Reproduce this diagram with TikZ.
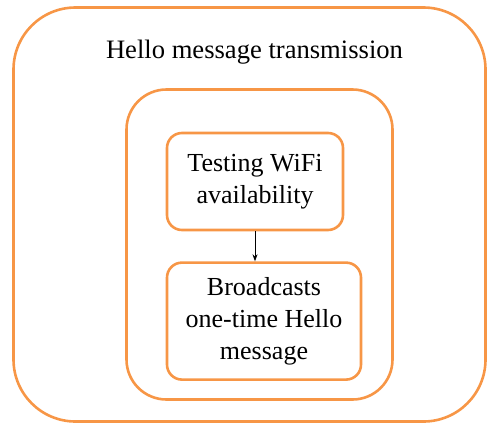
\documentclass[tikz,border=0pt]{standalone}
\usepackage{fontspec}
\setmainfont{Liberation Serif}
\usepackage{xcolor}
\usepackage{tikz}
\usetikzlibrary{arrows.meta,positioning}

\definecolor{frameorange}{RGB}{247,150,70}

\begin{document}
\begin{tikzpicture}[
  x=1pt, y=-1pt,
  frame/.style={draw=frameorange, line width=2.6pt, inner sep=0pt},
  box/.style={draw=frameorange, line width=2.6pt, rounded corners=15pt, align=center, inner sep=0pt,
    font=\fontsize{26}{32}\selectfont},
  arr/.style={-{Stealth[length=7pt,width=5pt]}, line width=0.8pt}
]
  \useasboundingbox (0,0) rectangle (487,424);
  % outer and inner frames
  \node[frame, rounded corners=62pt, minimum width=472pt, minimum height=414pt] (outer) at (249.5,214.5) {};
  \node[frame, rounded corners=40pt, minimum width=266pt, minimum height=310pt] (inner) at (259.5,244.5) {};
  \node[anchor=base, font=\fontsize{26.6}{32}\selectfont] (title) at (254.5,58) {Hello message transmission};
  % the two steps
  \node[box, minimum width=176pt, minimum height=97pt] (test) at (255,181.5) {Testing WiFi\\availability};
  \node[box, below=30pt of test.south west, anchor=north west, minimum width=194pt, minimum height=117pt] (bcast)
    {Broadcasts\\one-time Hello\\message};
  \draw[arr] (test.south) -- (test.south |- bcast.north);
\end{tikzpicture}
\end{document}
